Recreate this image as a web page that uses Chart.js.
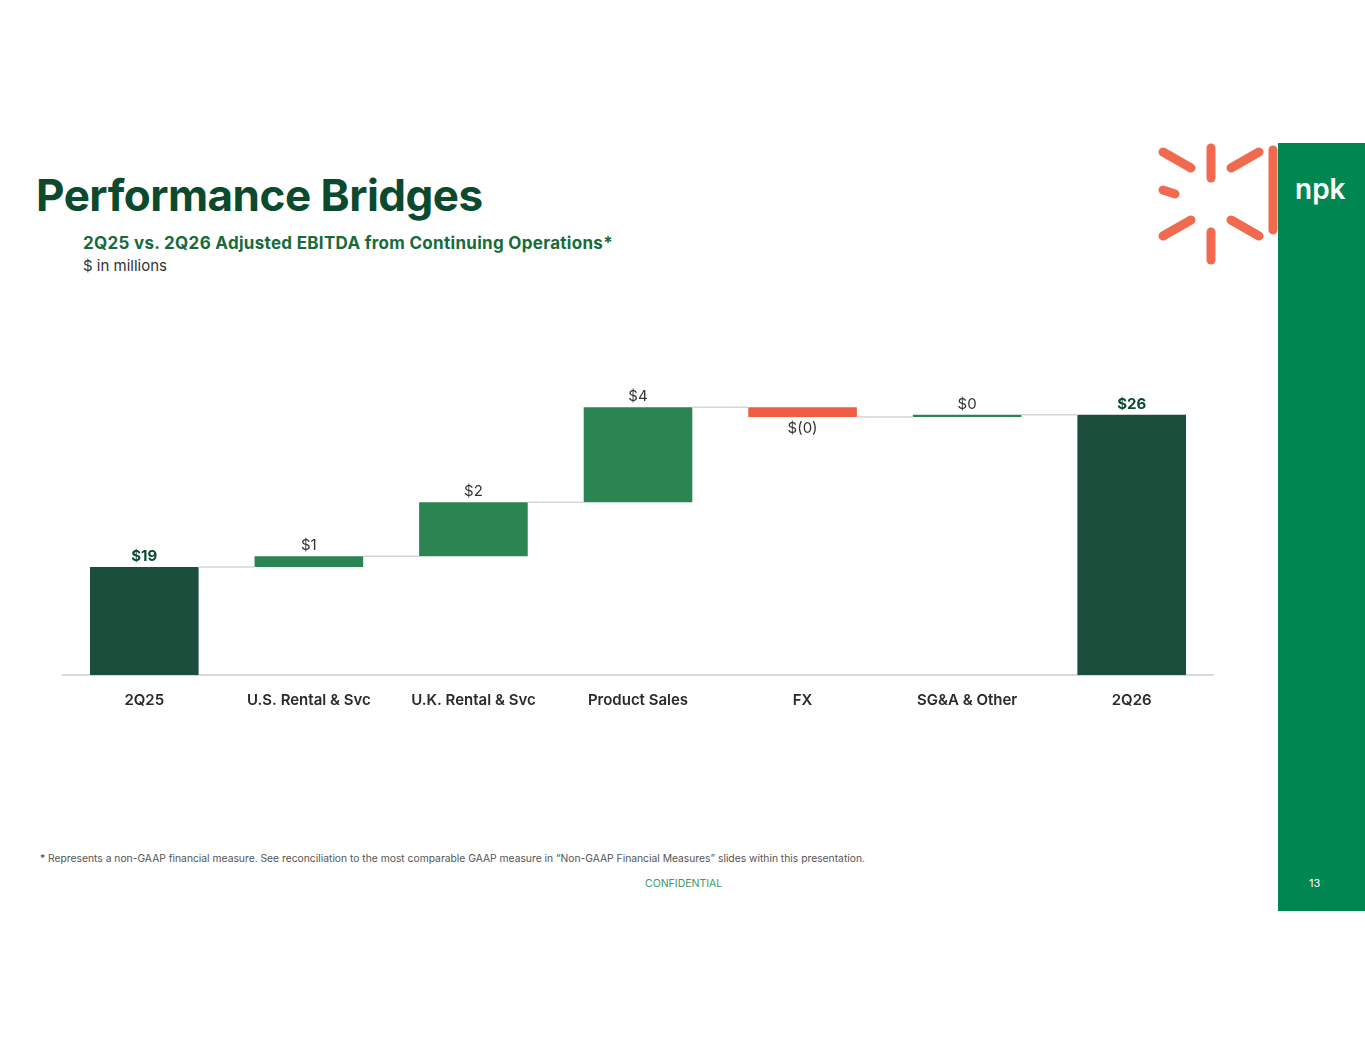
<!DOCTYPE html>
<html><head><meta charset="utf-8">
<script src="https://cdn.jsdelivr.net/npm/chart.js@4"></script>
<style>
body{margin:0;width:1365px;height:1055px;background:#fff;font-family:Inter,"Noto Sans",sans-serif;position:relative;overflow:hidden}
h1{position:absolute;left:36px;top:168px;margin:0;font-size:44px;font-weight:700;color:#0b4a2e;letter-spacing:-0.5px}
.sub{position:absolute;left:83px;top:233px;font-size:17px;font-weight:700;color:#176b3a;letter-spacing:0.3px}
.unit{position:absolute;left:83px;top:256px;font-size:15px;color:#333}
.side{position:absolute;left:1278px;top:143px;width:87px;height:768px;background:#008751}
.npk{position:absolute;left:1295px;top:172px;color:#fff;font-size:28px;font-weight:600}
.pg{position:absolute;left:1309px;top:876px;color:#fff;font-size:11px}
.foot{position:absolute;left:40px;top:852px;font-size:10.3px;color:#555}
.conf{position:absolute;left:645px;top:877px;font-size:10.5px;color:#3a9a5e}
#wrap{position:absolute;left:62px;top:367px;width:1152px;height:350px}
</style></head><body>
<h1>Performance Bridges</h1>
<div class="sub">2Q25 vs. 2Q26 Adjusted EBITDA from Continuing Operations*</div>
<div class="unit">$ in millions</div>
<svg style="position:absolute;left:1155px;top:140px" width="125" height="130">
<g stroke="#ef6a4f" stroke-width="9" stroke-linecap="round">
<line x1="56" y1="8" x2="56" y2="38"/><line x1="56" y1="92" x2="56" y2="120"/>
<line x1="8" y1="12" x2="36" y2="28"/><line x1="76" y1="28" x2="104" y2="12"/>
<line x1="8" y1="96" x2="36" y2="80"/><line x1="76" y1="80" x2="104" y2="96"/>
<line x1="8" y1="50" x2="20" y2="54"/><line x1="118" y1="10" x2="118" y2="90"/>
</g></svg>
<div class="side"></div><div class="npk">npk</div><div class="pg">13</div>
<div class="foot">* Represents a non-GAAP financial measure. See reconciliation to the most comparable GAAP measure in “Non-GAAP Financial Measures” slides within this presentation.</div>
<div class="conf">CONFIDENTIAL</div>
<div id="wrap"><canvas id="c"></canvas></div>
<script>
const categorias=["2Q25","U.S. Rental & Svc","U.K. Rental & Svc","Product Sales","FX","SG&A & Other","2Q26"];
const inicio=[14,19.0,19.5,22.0,26.4,25.95,14];
const fim=[19.0,19.5,22.0,26.4,25.95,26.05,26.05];
const rotulos=["$19","$1","$2","$4","$(0)","$0","$26"];
const cores=["#1a4d3a","#2a8553","#2a8553","#2a8553","#ef5d45","#2a8553","#1a4d3a"];

const extras={id:"extras",afterDatasetsDraw(ch){
  const ctx=ch.ctx,m=ch.getDatasetMeta(0),y=ch.scales.y;
  ctx.save();
  ctx.strokeStyle="#d6d6d6";ctx.lineWidth=1.5;
  for(let i=0;i<m.data.length-1;i++){
    const a=m.data[i],b=m.data[i+1],yy=y.getPixelForValue(fim[i]);
    ctx.beginPath();ctx.moveTo(a.x+a.width/2,yy);ctx.lineTo(b.x-b.width/2,yy);ctx.stroke();
  }
  ctx.textAlign="center";
  m.data.forEach((bar,i)=>{
    const total=i==0||i==6, neg=fim[i]<inicio[i];
    ctx.font=(total?"bold ":"")+"15px Inter, sans-serif";
    ctx.fillStyle=total?"#0b4a2e":"#333";
    const topo=y.getPixelForValue(Math.max(inicio[i],fim[i])),base=y.getPixelForValue(Math.min(inicio[i],fim[i]));
    if(neg){ctx.textBaseline="top";ctx.fillText(rotulos[i],bar.x,base+4);}
    else{ctx.textBaseline="bottom";ctx.fillText(rotulos[i],bar.x,topo-3);}
  });
  ctx.restore();
}};

new Chart(document.getElementById("c"),{
  type:"bar",
  data:{labels:categorias,datasets:[{data:inicio.map((v,i)=>[v,fim[i]]),backgroundColor:cores,barPercentage:0.66,categoryPercentage:1}]},
  options:{responsive:true,maintainAspectRatio:false,animation:false,
    layout:{padding:{top:10}},
    plugins:{legend:{display:false},tooltip:{enabled:false}},
    scales:{
      y:{display:false,min:14,max:27.8},
      x:{grid:{display:false},border:{color:"#d9d9d9",width:2},
        ticks:{color:"#2a2a2a",font:{size:15,weight:"600",family:"Inter, sans-serif"},padding:8}}
    }
  },
  plugins:[extras]
});
</script>
</body></html>
